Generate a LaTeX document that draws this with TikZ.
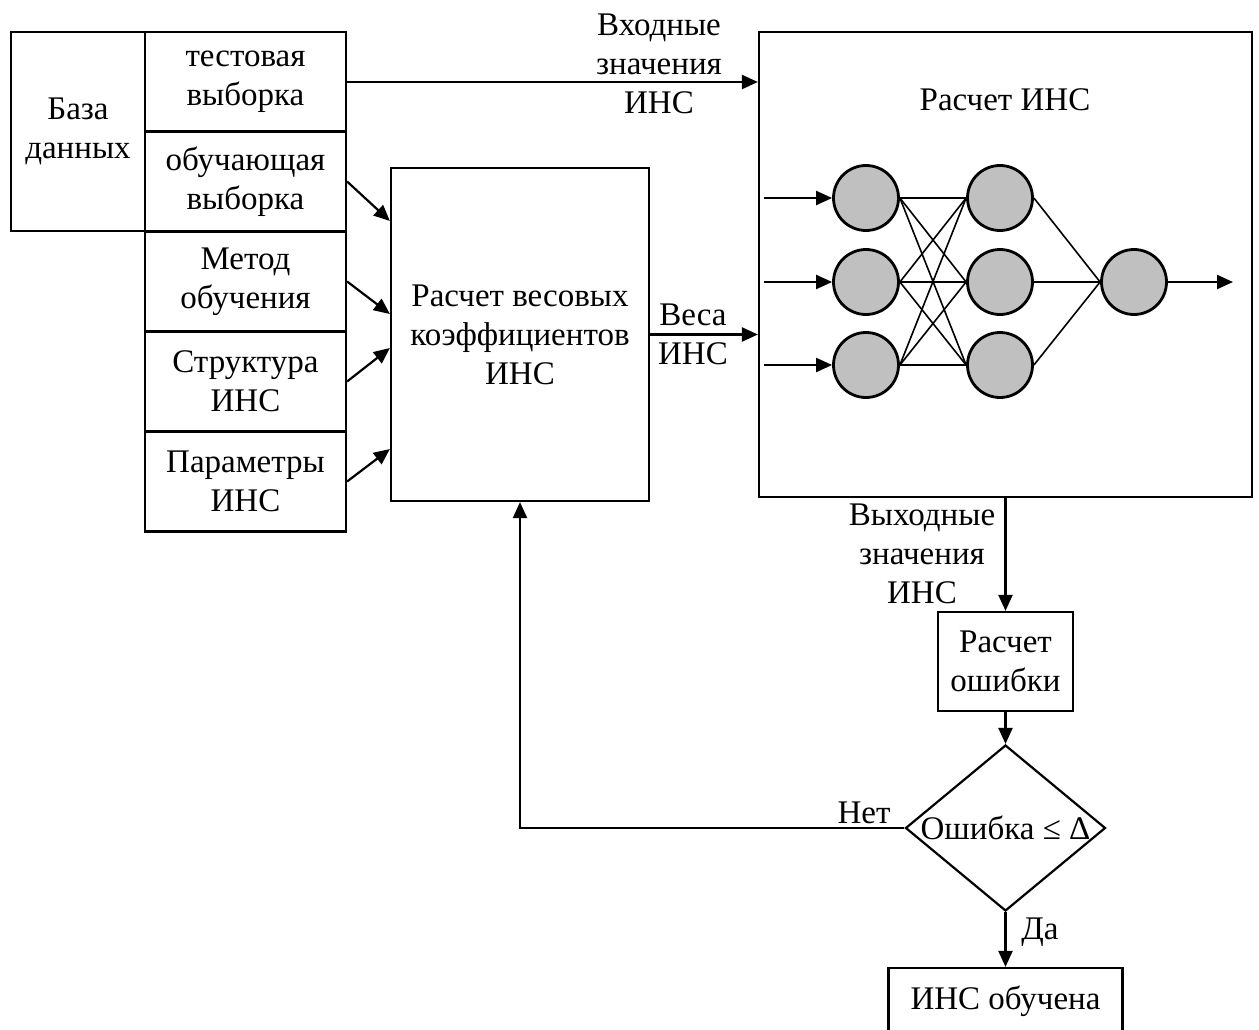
\documentclass[tikz,border=0pt]{standalone}
\usepackage{fontspec}
\setmainfont{Liberation Serif}
\usetikzlibrary{arrows.meta,shapes.geometric,calc}
\definecolor{nfill}{RGB}{192,192,192}
\begin{document}
\begin{tikzpicture}[x=1pt,y=-1pt,
  every node/.style={font=\fontsize{33}{39}\selectfont},
  box/.style={draw,line width=2.2pt,inner sep=0pt,align=center},
  txt/.style={align=center,inner sep=0pt},
  arr/.style={line width=2.2pt,-{Triangle[length=16pt,width=14pt]}},
  neuron/.style={circle,draw,line width=2.8pt,fill=nfill,minimum size=65pt,inner sep=0pt},
  syn/.style={line width=1.6pt}]
\clip (0,0) rectangle (1259,1030);
% database and its parts
\node[box,minimum width=134pt,minimum height=199pt] (db) at (78,131.5) {База\\данных};
\node[box,minimum width=201pt,minimum height=100pt] (tv) at (245.5,82) {тестовая\\выборка};
\node[box,minimum width=201pt,minimum height=100pt] (ob) at (245.5,181.5) {обучающая\\выборка};
\node[box,minimum width=201pt,minimum height=100pt] (mo) at (245.5,281.5) {Метод\\обучения};
\node[box,minimum width=201pt,minimum height=100pt] (st) at (245.5,381.5) {Структура\\ИНС};
\node[box,minimum width=201pt,minimum height=100pt] (pa) at (245.5,481.5) {Параметры\\ИНС};
% weights box
\node[box,minimum width=258pt,minimum height=333pt] (w) at (520,334.5) {Расчет весовых\\коэффициентов\\ИНС};
% ANN box
\node[box,minimum width=493pt,minimum height=465pt] (ann) at (1005.5,264.5) {};
\node[txt] (annt) at (1005,100) {Расчет ИНС};
% neurons
\node[neuron] (a1) at (866,198) {};
\node[neuron] (a2) at (866,282) {};
\node[neuron] (a3) at (866,365) {};
\node[neuron] (b1) at (1000,198) {};
\node[neuron] (b2) at (1000,282) {};
\node[neuron] (b3) at (1000,365) {};
\node[neuron] (c) at (1134,282) {};
\foreach \p in {1,2,3} \foreach \q in {1,2,3} \draw[syn] (a\p.east) -- (b\q.west);
\foreach \q in {1,2,3} \draw[syn] (b\q.east) -- (c.west);
\coordinate (i1) at (764,198);
\coordinate (i2) at (764,282);
\coordinate (i3) at (764,365);
\coordinate (o) at (1233,282);
\draw[arr] (i1) -- (a1.west);
\draw[arr] (i2) -- (a2.west);
\draw[arr] (i3) -- (a3.west);
\draw[arr] (c.east) -- (o);
% connectors top
\draw[arr] (tv.east) -- (tv.east -| ann.west);
\node[txt] (inl) at (659,64) {Входные\\значения\\ИНС};
\draw[arr] (w.east) -- (w.east -| ann.west);
\node[txt] (wl) at (693,334) {Веса\\ИНС};
\draw[arr] (ob.east) -- ($(w.west)+(0,-113.5)$);
\draw[arr] (mo.east) -- ($(w.west)+(0,-20.5)$);
\draw[arr] (st.east) -- ($(w.west)+(0,13.5)$);
\draw[arr] (pa.east) -- ($(w.west)+(0,114.5)$);
% error part
\node[box,minimum width=135pt,minimum height=99pt] (err) at (1005.5,661.5) {Расчет\\ошибки};
\node[draw,diamond,line width=2.2pt,minimum width=200pt,minimum height=166pt,inner sep=0pt] (dm) at (1005.5,828) {};
\node[txt] (dmt) at (1005.5,828) {Ошибка ≤ Δ};
\node[box,minimum width=234pt,minimum height=66pt] (done) at (1005.5,1001) {ИНС обучена};
\draw[arr] (ann.south) -- (err.north);
\node[txt] (outl) at (922,554) {Выходные\\значения\\ИНС};
\draw[arr] (err.south) -- (dm.north);
\draw[arr] (dm.south) -- (done.north);
\node[txt] (yes) at (1040,932) {Да};
\draw[arr] (dm.west) -| (w.south);
\node[txt] (no) at (864,813) {Нет};
\end{tikzpicture}
\end{document}
